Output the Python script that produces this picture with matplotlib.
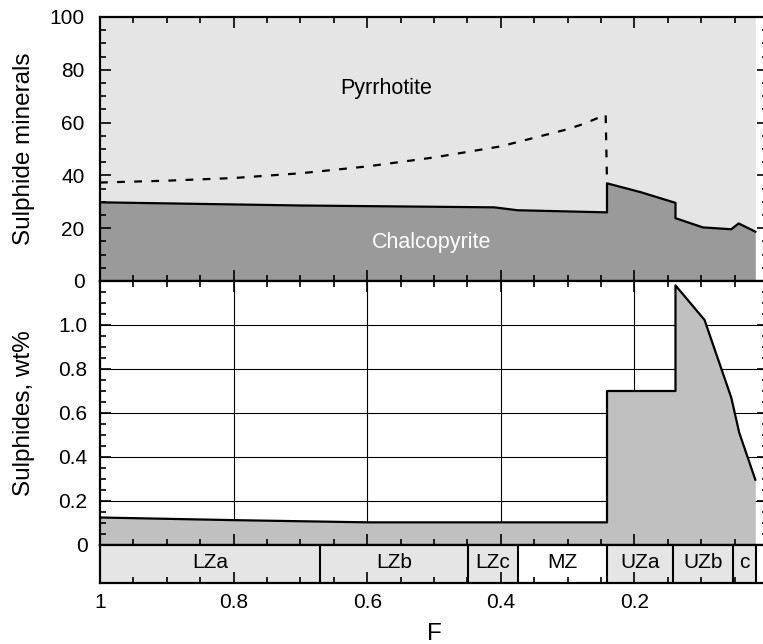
import matplotlib
matplotlib.use('Agg')
import matplotlib.pyplot as plt
from matplotlib.ticker import MultipleLocator, FixedLocator, FixedFormatter

plt.rcParams['font.family'] = ['Liberation Sans', 'DejaVu Sans']

# ---- data ----
# Top panel: chalcopyrite proportion (solid line) vs F
chalco_F = [1.0, 0.70, 0.41, 0.375, 0.241, 0.241, 0.19, 0.1385, 0.1385, 0.0975, 0.055, 0.044, 0.019]
chalco_val = [29.8, 28.6, 27.9, 26.8, 26.0, 37.0, 33.6, 29.6, 23.8, 20.3, 19.6, 21.8, 18.7]
# dashed curve
dash_F = [1.0, 0.9, 0.8, 0.7, 0.6, 0.5, 0.4, 0.3, 0.275, 0.243, 0.241]
dash_val = [37.3, 38.0, 39.0, 40.8, 43.4, 46.8, 51.0, 57.5, 59.6, 63.0, 37.0]
# Bottom panel: sulphides wt%
sulph_F = [1.0, 0.8, 0.6, 0.241, 0.241, 0.1385, 0.1385, 0.095, 0.055, 0.043, 0.019]
sulph_val = [0.125, 0.113, 0.103, 0.103, 0.70, 0.70, 1.18, 1.023, 0.67, 0.51, 0.297]
# Zone strip
zone_edges = [1.0, 0.67, 0.449, 0.375, 0.2415, 0.1415, 0.0525, 0.018]
zone_names = ['LZa', 'LZb', 'LZc', 'MZ', 'UZa', 'UZb', 'c']
zone_white = [False, False, False, True, False, False, False]

x_ticks = [1.0, 0.8, 0.6, 0.4, 0.2, 0.0]
x_labels = ['1', '0.8', '0.6', '0.4', '0.2', '0']
top_yticks = [0, 20, 40, 60, 80, 100]
bot_yticks = [0, 0.2, 0.4, 0.6, 0.8, 1.0]
bot_ylabels = ['0', '0.2', '0.4', '0.6', '0.8', '1.0']

LIGHT = '#e5e5e5'
DARK = '#9a9a9a'
MID = '#c0c0c0'

fig = plt.figure(figsize=(7.63, 6.44), dpi=100)
L = 100 / 763
W = 668 / 763
ax1 = fig.add_axes([L, 1 - 281 / 644, W, (281 - 17) / 644])
ax2 = fig.add_axes([L, 1 - 545 / 644, W, (545 - 281) / 644])
ax3 = fig.add_axes([L, 1 - 583 / 644, W, (583 - 545) / 644])

# ---- top panel ----
ax1.fill_between(chalco_F, chalco_val, 100, color=LIGHT, lw=0, zorder=1)
ax1.fill_between(chalco_F, 0, chalco_val, color=DARK, lw=0, zorder=1)
ax1.plot(chalco_F, chalco_val, color='k', lw=1.6, zorder=3)
ax1.plot(dash_F, dash_val, color='k', lw=1.6, ls=(0, (3.5, 4.2)), zorder=3)
ax1.set_ylim(0, 100)
ax1.yaxis.set_major_locator(FixedLocator(top_yticks))
ax1.yaxis.set_minor_locator(MultipleLocator(5))
ax1.set_ylabel('Sulphide minerals', fontsize=17.5)
ax1.yaxis.set_label_coords(-0.097, 0.5)
ax1.text(0.571, 71.0, 'Pyrrhotite', fontsize=15.5, ha='center', va='baseline', zorder=4)
ax1.text(0.504, 12.5, 'Chalcopyrite', fontsize=15.5, ha='center', va='baseline',
         color='white', zorder=4)

# ---- bottom panel ----
ax2.set_ylim(0, 1.2)
ax2.yaxis.set_major_locator(FixedLocator(bot_yticks))
ax2.yaxis.set_major_formatter(FixedFormatter(bot_ylabels))
ax2.yaxis.set_minor_locator(MultipleLocator(0.05))
for yv in bot_yticks[1:]:
    ax2.axhline(yv, color='k', lw=0.8, zorder=0.5)
for xv in x_ticks[1:-1]:
    ax2.axvline(xv, color='k', lw=0.8, zorder=0.5)
ax2.fill_between(sulph_F, 0, sulph_val, color=MID, lw=0, zorder=1)
ax2.plot(sulph_F, sulph_val, color='k', lw=1.6, zorder=3)
ax2.set_ylabel('Sulphides, wt%', fontsize=17.5)
ax2.yaxis.set_label_coords(-0.097, 0.5)

# ---- zone strip ----
ax3.set_ylim(0, 1)
for i, name in enumerate(zone_names):
    a, b = zone_edges[i], zone_edges[i + 1]
    ax3.axvspan(b, a, color='white' if zone_white[i] else LIGHT, lw=0, zorder=0.5)
    ax3.text((a + b) / 2, 0.55, name, fontsize=15, ha='center', va='center', zorder=4)
for e in zone_edges[1:]:
    ax3.axvline(e, color='k', lw=1.5, zorder=3)
ax3.set_xlabel('F', fontsize=17.5)
ax3.xaxis.set_label_coords(0.5, -1.05)

for ax in (ax1, ax2, ax3):
    ax.set_xlim(1, 0)
    ax.xaxis.set_major_locator(FixedLocator(x_ticks))
    ax.xaxis.set_minor_locator(MultipleLocator(0.05))
    for s in ax.spines.values():
        s.set_linewidth(1.6)
    ax.tick_params(which='major', length=8, width=1.2)
    ax.tick_params(which='minor', length=4.5, width=1.2)

ax1.tick_params(which='both', direction='in', top=True, right=True, labelbottom=False,
                labelsize=15)
ax1.tick_params(axis='y', pad=11)
ax2.tick_params(which='both', direction='in', top=True, right=True, labelbottom=False,
                labelsize=15)
ax2.tick_params(axis='y', pad=9)
ax3.tick_params(which='both', direction='in', top=False, right=False, left=False,
                labelleft=False, labelsize=15)
ax3.tick_params(axis='x', pad=7)
ax3.xaxis.set_major_formatter(FixedFormatter(x_labels))
ax3.set_yticks([])

fig.savefig('out.png', dpi=100)
